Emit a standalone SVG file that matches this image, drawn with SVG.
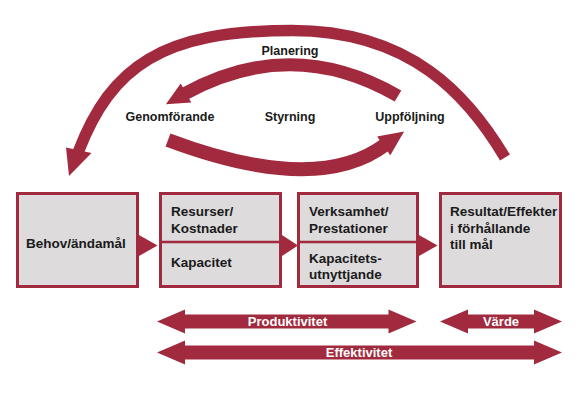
<svg xmlns="http://www.w3.org/2000/svg" width="579" height="411" viewBox="0 0 579 411">
<style>
.box{fill:#dddbdc;stroke:#a22a3e;stroke-width:3}
.div{stroke:#a22a3e;stroke-width:2.5}
.red{fill:#a22a3e}
.arc{fill:none;stroke:#a22a3e;stroke-linecap:butt}
.t{font-family:"Liberation Sans",Arial,sans-serif;font-weight:bold;font-size:13.5px;fill:#1a1a1a}
.l{font-family:"Liberation Sans",Arial,sans-serif;font-weight:bold;font-size:12.5px;fill:#1a1a1a}
.w{font-family:"Liberation Sans",Arial,sans-serif;font-weight:bold;font-size:13px;fill:#ffffff}
</style>
<rect width="579" height="411" fill="#ffffff"/>
<g id="connectors">
  <path class="arc" stroke-width="11.5" d="M505,157.5 C469,97 412,30.5 292,30.5 C162,30.5 111.4,66.3 78.3,151.8"/>
  <polygon class="red" points="69,176 66,147.5 91.5,153"/>
  <path class="arc" stroke-width="13" d="M398,96 Q292,34.5 184.2,94"/>
  <polygon class="red" points="165.9,104.2 180.7,83.4 191.3,102.6"/>
  <path class="arc" stroke-width="14" d="M168,140 Q317,196 385.3,144.7"/>
  <polygon class="red" points="404.1,131.4 377.1,136.4 390.3,155.2"/>
  <polygon class="red" points="139,235 157.5,245.5 139,256"/>
  <polygon class="red" points="282,235 298,245.5 282,256"/>
  <polygon class="red" points="419,235 437.5,245.5 419,256"/>
  <polygon class="red" points="157,321.5 185,309.5 185,314.5 388.5,314.5 388.5,309.5 416.5,321.5 388.5,333.5 388.5,328.5 185,328.5 185,333.5"/>
  <polygon class="red" points="440,321.5 468,309.5 468,314.5 534,314.5 534,309.5 562,321.5 534,333.5 534,328.5 468,328.5 468,333.5"/>
  <polygon class="red" points="157,352.5 185,340.5 185,345.5 534,345.5 534,340.5 562,352.5 534,364.5 534,359.5 185,359.5 185,364.5"/>
  <text class="l" x="290" y="54.5" text-anchor="middle">Planering</text>
  <text class="l" x="170" y="120.5" text-anchor="middle">Genomförande</text>
  <text class="l" x="290" y="120.5" text-anchor="middle">Styrning</text>
  <text class="l" x="410" y="120.5" text-anchor="middle">Uppföljning</text>
  <text class="w" x="287.5" y="326" text-anchor="middle">Produktivitet</text>
  <text class="w" x="501" y="326" text-anchor="middle">Värde</text>
  <text class="w" x="359" y="357" text-anchor="middle">Effektivitet</text>
</g>
<g id="behov">
  <rect class="box" x="17.5" y="193.5" width="120" height="93"/>
  <text class="t" x="26" y="248">Behov/ändamål</text>
</g>
<g id="resurser">
  <rect class="box" x="160.5" y="193.5" width="120" height="93"/>
  <line class="div" x1="160.5" y1="242" x2="280.5" y2="242"/>
  <text class="t" x="171" y="216">Resurser/</text>
  <text class="t" x="171" y="232.5">Kostnader</text>
  <text class="t" x="171" y="266.5">Kapacitet</text>
</g>
<g id="verksamhet">
  <rect class="box" x="298.5" y="193.5" width="119" height="93"/>
  <line class="div" x1="298.5" y1="242" x2="417.5" y2="242"/>
  <text class="t" x="309" y="216">Verksamhet/</text>
  <text class="t" x="309" y="232.5">Prestationer</text>
  <text class="t" x="309" y="262.5">Kapacitets-</text>
  <text class="t" x="309" y="279">utnyttjande</text>
</g>
<g id="resultat">
  <rect class="box" x="440.5" y="193.5" width="120" height="93"/>
  <text class="t" x="450" y="216">Resultat/Effekter</text>
  <text class="t" x="450" y="232.5">i förhållande</text>
  <text class="t" x="450" y="249">till mål</text>
</g>
</svg>
